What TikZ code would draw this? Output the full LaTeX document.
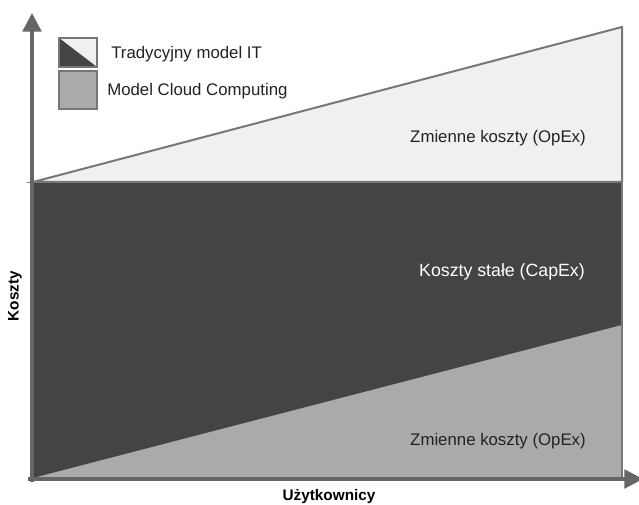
\documentclass[tikz,border=0pt]{standalone}
\usepackage{fontspec}
\setmainfont{Liberation Sans}
\usetikzlibrary{arrows.meta}
\definecolor{capexfill}{HTML}{444444}
\definecolor{opexfill}{HTML}{F0F0F0}
\definecolor{cloudfill}{HTML}{AAAAAA}
\definecolor{edgegray}{HTML}{777777}
\definecolor{axisgray}{HTML}{666666}
\definecolor{textgray}{HTML}{222222}
\tikzset{area/.style={draw=edgegray, line width=1.5pt, line join=miter},
  axis/.style={draw=axisgray, line width=2.6pt, -{Triangle[length=14pt, width=14pt]}},
  costlabel/.style={font=\fontsize{12.6}{15}\selectfont, text=textgray, inner sep=0pt},
  axislabel/.style={font=\bfseries\fontsize{11.5}{14}\selectfont, text=black, inner sep=0pt},
  legendbox/.style={draw=edgegray, line width=1.5pt, inner sep=0pt, anchor=north west}}

\begin{document}
\begin{tikzpicture}[x=0.75pt, y=-0.75pt]
  \useasboundingbox (0,0) rectangle (639,505);
  % chart areas
  \coordinate (O) at (33,478);
  \coordinate (F) at (33,182);
  \coordinate (FR) at (622,182);
  \coordinate (BR) at (622,478);
  \draw[area, fill=opexfill] (F) -- (622,27) -- (FR) -- cycle;
  \draw[area, fill=capexfill] (F) rectangle (BR);
  \fill[cloudfill] (O) -- (622,325) -- (BR) -- cycle;
  \draw[area] (622,325) -- (BR);
  % axes
  \coordinate (xstart) at (28,479);
  \coordinate (xend) at (643,479);
  \coordinate (ystart) at (32,482);
  \coordinate (yend) at (32,13);
  \draw[axis] (ystart) -- (yend);
  \draw[axis] (xstart) -- (xend);
  % legend
  \node[legendbox, fill=opexfill, minimum width=28.5pt, minimum height=21.75pt,
    path picture={\fill[capexfill] (path picture bounding box.north west) -- (path picture bounding box.south east) -- (path picture bounding box.south west) -- cycle;}]
    (legendit) at (58,37) {};
  \node[legendbox, fill=cloudfill, minimum width=28.5pt, minimum height=28.5pt] (legendcloud) at (58,70) {};
  \node[costlabel, anchor=west] (itlabel) at (111,54) {Tradycyjny model IT};
  \node[costlabel, anchor=west] (cloudlabel) at (107,91) {Model Cloud Computing};
  % labels
  \node[costlabel] (opextop) at (498,138) {Zmienne koszty (OpEx)};
  \node[costlabel, text=white, font=\fontsize{13.3}{16}\selectfont] (capex) at (502,272) {Koszty stałe (CapEx)};
  \node[costlabel] (opexbottom) at (498,441) {Zmienne koszty (OpEx)};
  \node[axislabel] (xlabel) at (329,497) {Użytkownicy};
  \node[axislabel, rotate=90] (ylabel) at (15,296) {Koszty};
\end{tikzpicture}
\end{document}
